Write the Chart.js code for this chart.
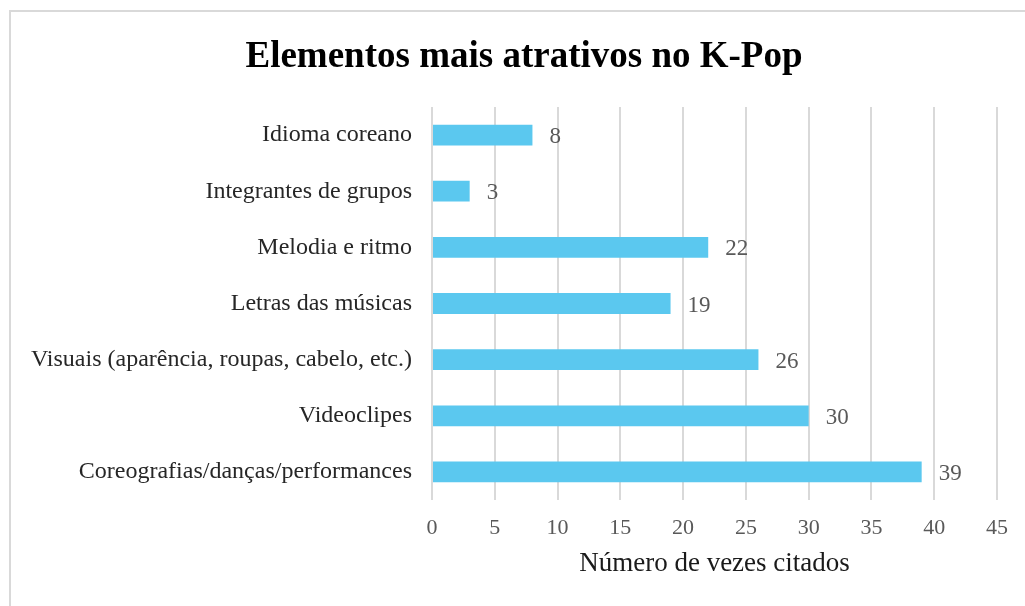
<!DOCTYPE html>
<html>
<head>
<meta charset="utf-8">
<script src="https://cdn.jsdelivr.net/npm/chart.js@4"></script>
<style>
  html, body { margin: 0; padding: 0; background: #fff; overflow: hidden; }
  #frame {
    position: absolute; left: 9px; top: 10px; width: 2000px; height: 2000px;
    border: 2px solid #d9d9d9; box-sizing: border-box; pointer-events: none;
  }
  #wrap { position: absolute; left: 0; top: 0; width: 1025px; height: 606px; }
</style>
</head>
<body>
<div id="frame"></div>
<div id="wrap"><canvas id="chart"></canvas></div>
<script>
const titleText = "Elementos mais atrativos no K-Pop";
const axisTitle = "Número de vezes citados";
const categories = [
  "Idioma coreano",
  "Integrantes de grupos",
  "Melodia e ritmo",
  "Letras das músicas",
  "Visuais (aparência, roupas, cabelo, etc.)",
  "Videoclipes",
  "Coreografias/danças/performances"
];
const counts = [8, 3, 22, 19, 26, 30, 39];
const xMin = 0;
const xMax = 45;
const xStep = 5;

const serif = "'Liberation Serif', 'Times New Roman', serif";

// draws the value to the right of each bar
const barValues = {
  id: "barValues",
  afterDatasetsDraw(chart) {
    const ctx = chart.ctx;
    const meta = chart.getDatasetMeta(0);
    ctx.save();
    ctx.font = "23px " + serif;
    ctx.fillStyle = "#595959";
    ctx.textAlign = "left";
    ctx.textBaseline = "middle";
    meta.data.forEach((bar, i) => {
      ctx.fillText(String(counts[i]), bar.x + 17, bar.y + 2);
    });
    ctx.restore();
  }
};

// title is centred a bit right of the canvas middle, so draw it by hand
const chartTitle = {
  id: "chartTitle",
  afterDraw(chart) {
    const ctx = chart.ctx;
    ctx.save();
    ctx.font = "bold 37px " + serif;
    ctx.fillStyle = "#000";
    ctx.textAlign = "center";
    ctx.textBaseline = "alphabetic";
    ctx.fillText(titleText, 524, 67);
    ctx.restore();
  }
};

document.addEventListener("DOMContentLoaded", () => {
  const ctx = document.getElementById("chart").getContext("2d");

  new Chart(ctx, {
    type: "bar",
    data: {
      labels: categories,
      datasets: [
        {
          data: counts,
          backgroundColor: "#5BC8EF",
          borderWidth: 0,
          categoryPercentage: 1,
          barPercentage: 0.37,
        },
      ],
    },
    plugins: [barValues, chartTitle],
    options: {
      indexAxis: "y",
      responsive: true,
      maintainAspectRatio: false,
      animation: false,
      layout: { padding: { left: 0, right: 28, top: 107, bottom: 0 } },
      plugins: {
        legend: { display: false },
        tooltip: { enabled: false },
        title: { display: false },
      },
      scales: {
        x: {
          min: xMin,
          max: xMax,
          ticks: {
            stepSize: xStep,
            color: "#595959",
            font: { family: serif, size: 22 },
            padding: 15,
          },
          grid: { color: "#d9d9d9", lineWidth: 2, drawTicks: false },
          border: { display: false },
          title: {
            display: true,
            text: axisTitle,
            color: "#1a1a1a",
            font: { family: serif, size: 27 },
            padding: { top: 0, bottom: 26 },
          },
          afterFit(scale) {
            scale.height = 106;
          },
        },
        y: {
          ticks: {
            color: "#262626",
            font: { family: serif, size: 24 },
            padding: 20,
          },
          grid: { display: false, drawTicks: false },
          border: { display: false },
          afterFit(scale) {
            scale.width = 432;
          },
        },
      },
    },
  });
});
</script>
</body>
</html>
